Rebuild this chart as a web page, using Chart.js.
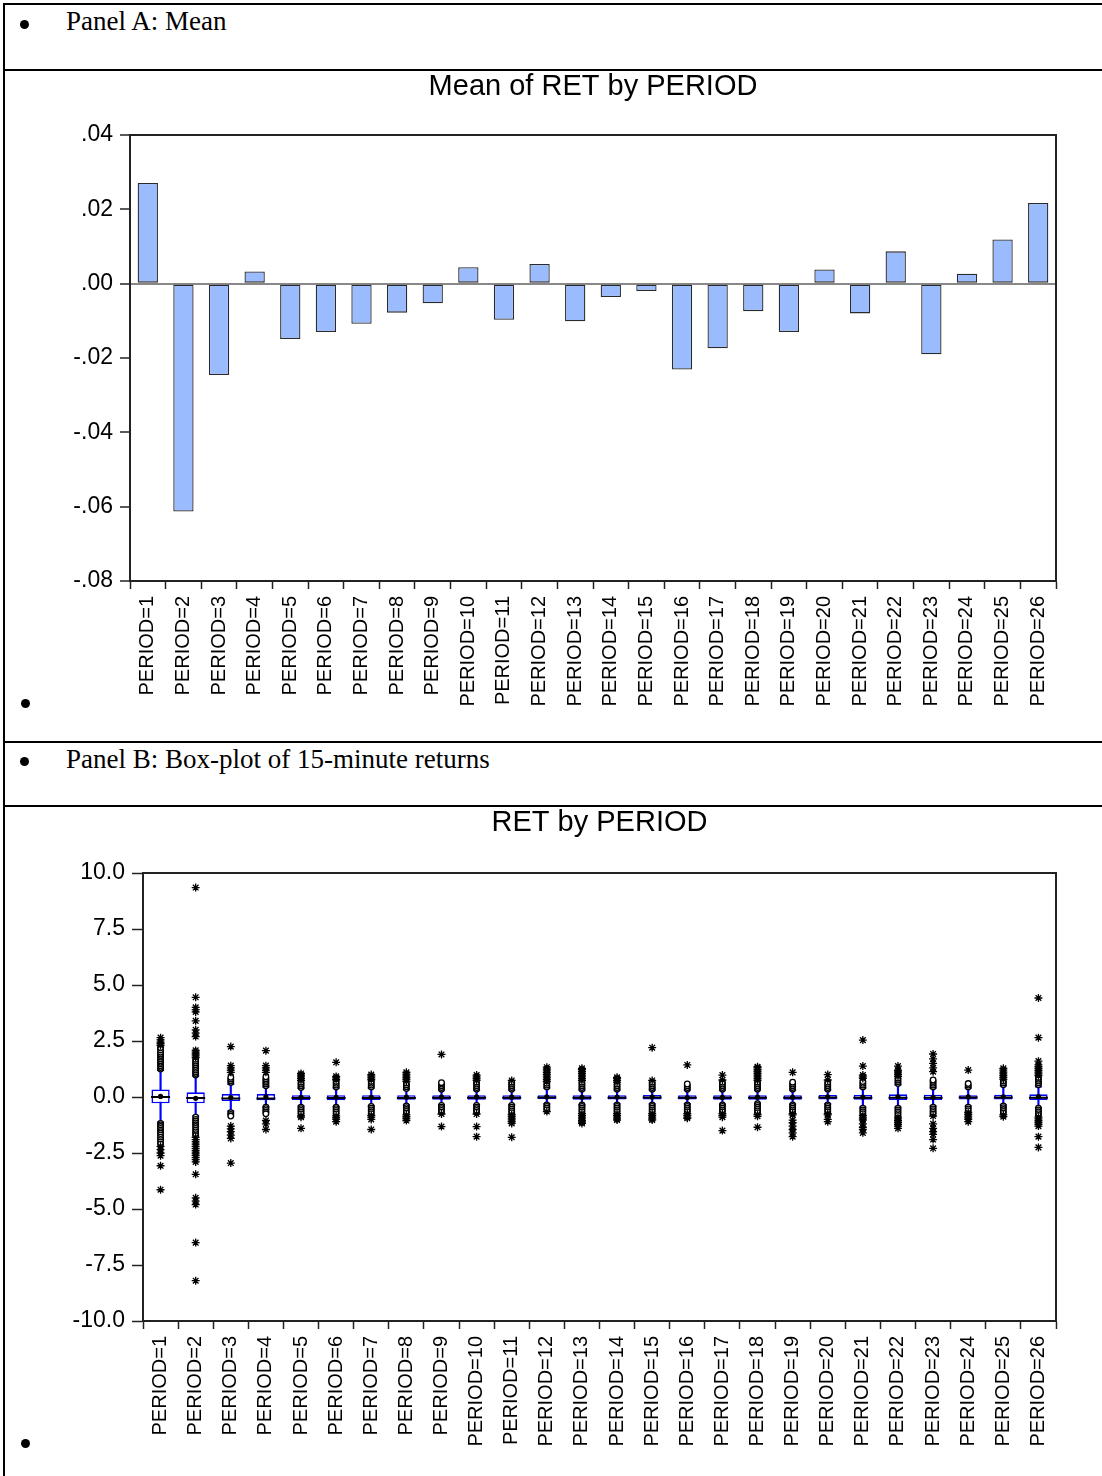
<!DOCTYPE html>
<html>
<head>
<meta charset="utf-8">
<title>RET by PERIOD</title>
<script src="https://cdn.jsdelivr.net/npm/chart.js@4.4.1/dist/chart.umd.min.js"></script>
<style>
  body { margin: 0; background: #fff; width: 1102px; height: 1476px; position: relative; overflow: hidden; }
  .rule { position: absolute; left: 3px; width: 1099px; height: 2px; background: #000; }
  .vrule { position: absolute; left: 3px; top: 3px; width: 2px; height: 1473px; background: #000; }
  .txt { position: absolute; font-family: "Liberation Serif", serif; font-size: 27px; line-height: 1; color: #000; white-space: nowrap; }
  .dot { position: absolute; width: 9px; height: 9px; border-radius: 50%; background: #000; }
  canvas { position: absolute; }
</style>
</head>
<body>
<div class="vrule"></div>
<div class="rule" style="top:3px"></div>
<div class="rule" style="top:69px"></div>
<div class="rule" style="top:741px"></div>
<div class="rule" style="top:805px"></div>

<div class="dot" style="left:20px; top:20px"></div>
<div class="txt" style="left:66px; top:8px">Panel A: Mean</div>
<div class="dot" style="left:21px; top:699px"></div>
<div class="dot" style="left:20px; top:757px"></div>
<div class="txt" style="left:66px; top:746px">Panel B: Box-plot of 15-minute returns</div>
<div class="dot" style="left:21px; top:1439px"></div>

<canvas id="meanChart" width="1092" height="670" style="left:6px; top:70px"></canvas>
<canvas id="boxChart" width="1092" height="670" style="left:6px; top:806px"></canvas>

<script>
const periods = [
  "PERIOD=1", "PERIOD=2", "PERIOD=3", "PERIOD=4", "PERIOD=5", "PERIOD=6", "PERIOD=7",
  "PERIOD=8", "PERIOD=9", "PERIOD=10", "PERIOD=11", "PERIOD=12", "PERIOD=13",
  "PERIOD=14", "PERIOD=15", "PERIOD=16", "PERIOD=17", "PERIOD=18", "PERIOD=19",
  "PERIOD=20", "PERIOD=21", "PERIOD=22", "PERIOD=23", "PERIOD=24", "PERIOD=25", "PERIOD=26"
];

// Panel A: mean of RET per period
const meanRet = [
  0.0271, -0.0613, -0.0246, 0.0033, -0.0149, -0.0130, -0.0108, -0.0078, -0.0053,
  0.0044, -0.0097, 0.0053, -0.0101, -0.0036, -0.0020, -0.0231, -0.0174, -0.0074,
  -0.0130, 0.0038, -0.0080, 0.0087, -0.0190, 0.0027, 0.0119, 0.0217
];
const meanTicks = [-0.08, 0.04, 0.02];   // min, max, step

// Panel B: box plot statistics per period
const q1 = [-0.28, -0.28, -0.18, -0.15, -0.13, -0.14, -0.13, -0.12, -0.12, -0.12, -0.12, -0.10, -0.12,
  -0.11, -0.11, -0.11, -0.12, -0.12, -0.12, -0.11, -0.12, -0.13, -0.13, -0.11, -0.11, -0.13];
const q3 = [0.34, 0.21, 0.13, 0.13, 0.08, 0.08, 0.08, 0.08, 0.08, 0.08, 0.08, 0.08, 0.08,
  0.08, 0.09, 0.08, 0.08, 0.08, 0.08, 0.09, 0.09, 0.12, 0.10, 0.08, 0.10, 0.12];
const median = [0.0, -0.05, -0.07, -0.07, -0.05, -0.05, -0.04, -0.04, -0.03, -0.03, -0.03, -0.02, -0.03,
  -0.03, -0.02, -0.03, -0.03, -0.03, -0.03, -0.02, -0.03, -0.03, -0.03, -0.02, -0.02, -0.03];
const whiskerLo = [-1.13, -0.85, -0.62, -0.43, -0.40, -0.43, -0.40, -0.36, -0.35, -0.35, -0.35, -0.30, -0.35,
  -0.30, -0.30, -0.30, -0.32, -0.28, -0.32, -0.30, -0.45, -0.46, -0.40, -0.40, -0.36, -0.48];
const whiskerHi = [1.19, 0.94, 0.57, 0.46, 0.39, 0.40, 0.40, 0.33, 0.31, 0.31, 0.31, 0.40, 0.31,
  0.31, 0.31, 0.31, 0.31, 0.31, 0.31, 0.31, 0.40, 0.55, 0.40, 0.40, 0.50, 0.46];
const boxTicks = [-10, 10, 2.5];

const outliers = [
  [1.25, 1.32, 1.4, 1.48, 1.55, 1.62, 1.7, 1.78, 1.85, 1.92, 2.0, 2.1, 2.2, 2.3, 2.38, 2.45, 2.55, 2.65,
   -1.18, -1.25, -1.32, -1.4, -1.48, -1.55, -1.62, -1.7, -1.8, -1.9, -2.0, -2.1, -2.2, -2.35, -2.5, -2.62, -3.07, -4.14],
  [0.98, 1.05, 1.12, 1.2, 1.28, 1.36, 1.44, 1.52, 1.6, 1.68, 1.76, 1.84, 1.92, 2.0, 2.08, 2.7, 2.85, 3.0, 3.4,
   3.8, 3.9, 4.0, 4.45, 9.35,
   -0.9, -1.0, -1.08, -1.16, -1.24, -1.32, -1.4, -1.48, -1.56, -1.64, -1.72, -1.8, -1.9, -2.0, -2.1, -2.2,
   -2.3, -2.4, -2.5, -2.6, -2.7, -2.8, -2.9, -3.45, -4.5, -4.65, -4.8, -6.5, -8.2],
  [0.65, 0.72, 0.8, 0.88, 1.1, 1.2, 1.3, 1.4, 2.25, -0.7, -0.78, -0.85, -1.3, -1.42, -1.55, -1.7, -1.85, -2.95],
  [0.5, 0.58, 0.66, 0.74, 0.82, 0.9, 1.1, 1.2, 1.3, 1.4, 2.07, -0.45, -0.52, -0.6, -0.68, -0.75, -1.05, -1.2, -1.45],
  [0.42, 0.5, 0.58, 0.66, 0.74, 0.82, 0.9, 0.98, 1.05, -0.45, -0.52, -0.6, -0.68, -0.76, -0.84, -0.9, -1.4],
  [0.45, 0.53, 0.61, 0.69, 0.77, 0.85, 0.92, 1.55, -0.45, -0.52, -0.6, -0.68, -0.76, -0.84, -0.92, -1.0, -1.1],
  [0.45, 0.53, 0.61, 0.69, 0.77, 0.85, 0.93, 1.0, -0.42, -0.5, -0.58, -0.66, -0.74, -0.82, -0.9, -1.0, -1.45],
  [0.38, 0.46, 0.54, 0.62, 0.7, 0.78, 0.86, 0.94, 1.02, 1.1, -0.4, -0.48, -0.56, -0.64, -0.72, -0.8, -0.88, -0.96, -1.05],
  [0.35, 0.42, 0.5, 0.58, 0.64, 1.9, -0.38, -0.45, -0.52, -0.6, -0.68, -0.76, -1.32],
  [0.35, 0.42, 0.5, 0.58, 0.66, 0.74, 0.82, 0.9, 0.98, -0.38, -0.45, -0.52, -0.6, -0.68, -0.76, -1.32, -1.77],
  [0.35, 0.42, 0.5, 0.58, 0.66, 0.74, -0.38, -0.46, -0.54, -0.62, -0.7, -0.78, -0.86, -0.94, -1.02, -1.1, -1.18, -1.8],
  [0.45, 0.53, 0.61, 0.69, 0.77, 0.85, 0.93, 1.01, 1.09, 1.17, 1.25, 1.33, -0.35, -0.42, -0.5, -0.58, -0.65],
  [0.35, 0.42, 0.5, 0.58, 0.66, 0.74, 0.82, 0.9, 0.98, 1.06, 1.14, 1.22, 1.28,
   -0.35, -0.42, -0.5, -0.58, -0.66, -0.74, -0.82, -0.9, -0.98, -1.06, -1.12, -1.18],
  [0.35, 0.42, 0.5, 0.58, 0.66, 0.74, 0.82, 0.88, -0.35, -0.42, -0.5, -0.58, -0.66, -0.74, -0.82, -0.9, -0.98, -1.03],
  [0.35, 0.42, 0.5, 0.58, 0.66, 0.74, 2.2, -0.35, -0.42, -0.5, -0.58, -0.66, -0.74, -0.82, -0.9, -0.98, -1.03],
  [0.35, 0.42, 0.5, 0.58, 1.43, -0.35, -0.42, -0.5, -0.58, -0.66, -0.74, -0.82, -0.9, -0.95],
  [0.35, 0.42, 0.5, 0.58, 0.66, 0.76, 0.98, -0.35, -0.42, -0.5, -0.58, -0.66, -0.74, -0.82, -0.9, -1.5],
  [0.35, 0.42, 0.5, 0.58, 0.66, 0.74, 0.82, 0.9, 0.98, 1.06, 1.14, 1.22, 1.3, 1.35,
   -0.3, -0.38, -0.46, -0.54, -0.62, -0.7, -0.78, -0.86, -1.35],
  [0.35, 0.42, 0.5, 0.58, 0.66, 1.1, -0.35, -0.42, -0.5, -0.58, -0.66, -0.74, -0.8, -1.03, -1.15, -1.3, -1.45, -1.6, -1.77],
  [0.35, 0.42, 0.5, 0.58, 0.66, 0.76, 1.0, -0.35, -0.42, -0.5, -0.58, -0.66, -0.74, -0.8, -1.0, -1.1],
  [0.45, 0.53, 0.61, 0.69, 0.83, 0.9, 0.98, 1.38, 2.54,
   -0.5, -0.58, -0.66, -0.74, -0.82, -0.9, -0.98, -1.03, -1.2, -1.35, -1.45, -1.6],
  [0.6, 0.68, 0.76, 0.84, 0.92, 1.0, 1.08, 1.16, 1.2, 1.38,
   -0.5, -0.58, -0.66, -0.74, -0.82, -0.9, -0.98, -1.06, -1.14, -1.22, -1.3, -1.4],
  [0.45, 0.53, 0.61, 0.69, 0.76, 1.13, 1.3, 1.5, 1.7, 1.92,
   -0.45, -0.53, -0.61, -0.69, -0.77, -0.85, -1.2, -1.4, -1.55, -1.67, -1.9, -2.29],
  [0.45, 0.53, 0.6, 1.2, -0.45, -0.53, -0.61, -0.69, -0.77, -0.85, -0.93, -1.0, -1.1],
  [0.55, 0.63, 0.71, 0.79, 0.87, 0.95, 1.03, 1.11, 1.2, 1.28, -0.4, -0.48, -0.56, -0.64, -0.72, -0.8, -0.88],
  [0.55, 0.63, 0.71, 0.79, 0.87, 0.95, 1.03, 1.11, 1.19, 1.27, 1.35, 1.43, 1.6, 2.65, 4.42,
   -0.5, -0.58, -0.66, -0.74, -0.82, -0.9, -0.98, -1.06, -1.14, -1.22, -1.3, -1.77, -2.25]
];

const SANS = "Liberation Sans";
const AXIS = "#222";

// outline of the plot area
const framePlugin = {
  id: "frame",
  beforeDatasetsDraw(chart) {
    const { ctx, chartArea: a } = chart;
    ctx.save();
    ctx.strokeStyle = AXIS;
    ctx.lineWidth = 2;
    ctx.strokeRect(a.left, a.top, a.right - a.left, a.bottom - a.top);
    ctx.restore();
  }
};

function meanLabel(v) {
  if (Math.abs(v) < 1e-9) return ".00";
  const s = Math.abs(v).toFixed(2).replace(/^0/, "");
  return (v < 0 ? "-" : "") + s;
}

function xAxis(height) {
  return {
    type: "category",
    offset: true,
    afterFit: (s) => { s.height = height; },
    grid: { offset: true, drawOnChartArea: false, drawTicks: true, tickLength: 8, tickColor: AXIS, tickWidth: 1.5 },
    border: { display: true, color: AXIS, width: 2 },
    ticks: {
      autoSkip: false, minRotation: 90, maxRotation: 90, padding: 7,
      color: "#000", font: { family: SANS, size: 20 }
    }
  };
}

function titleOpts(text, bottom) {
  return {
    display: true, text, fullSize: false, color: "#000",
    font: { family: SANS, size: 29, weight: "normal" },
    padding: { top: 0, bottom }
  };
}

// ---- Panel A ----
new Chart(document.getElementById("meanChart"), {
  type: "bar",
  data: {
    labels: periods,
    datasets: [{
      data: meanRet,
      backgroundColor: "#9abcff",
      borderColor: "#2a2a2a",
      borderWidth: 1.3,
      borderSkipped: false,
      barPercentage: 0.57,
      categoryPercentage: 1.0
    }]
  },
  options: {
    responsive: false,
    animation: false,
    layout: { padding: { left: 0, right: 42, top: 0, bottom: 0 } },
    plugins: {
      legend: { display: false },
      tooltip: { enabled: false },
      title: titleOpts("Mean of RET by PERIOD", 30.2)
    },
    scales: {
      x: xAxis(159),
      y: {
        min: meanTicks[0], max: meanTicks[1],
        afterFit: (s) => { s.width = 124; },
        grid: {
          drawOnChartArea: true, drawTicks: true, tickLength: 10, tickColor: AXIS, tickWidth: 1.5,
          color: (c) => (c.tick && Math.abs(c.tick.value) < 1e-9 ? "#888" : "rgba(0,0,0,0)"),
          lineWidth: 2
        },
        border: { display: true, color: AXIS, width: 2 },
        ticks: {
          stepSize: meanTicks[2], padding: 7, color: "#000",
          font: { family: SANS, size: 23 },
          callback: (v) => meanLabel(v)
        }
      }
    }
  },
  plugins: [framePlugin]
});

// ---- Panel B ----
const asPoints = (arr) => arr.map((v, i) => ({ x: periods[i], y: v }));
const nearPts = [];
const farPts = [];
outliers.forEach((list, i) => {
  const iqr = q3[i] - q1[i];
  list.forEach((v) => {
    const far = v > q3[i] + 3 * iqr || v < q1[i] - 3 * iqr;
    (far ? farPts : nearPts).push({ x: periods[i], y: v });
  });
});

new Chart(document.getElementById("boxChart"), {
  type: "bar",
  data: {
    labels: periods,
    datasets: [
      { // whiskers
        data: whiskerLo.map((v, i) => [v, whiskerHi[i]]),
        backgroundColor: "#0000ff", borderWidth: 0,
        barThickness: 1.5, grouped: false, order: 6
      },
      { // boxes
        data: q1.map((v, i) => [v, q3[i]]),
        backgroundColor: "#ffffff", borderColor: "#0000ff", borderWidth: 1.6,
        borderSkipped: false, barPercentage: 0.52, categoryPercentage: 1.0,
        grouped: false, order: 5
      },
      { // whisker caps
        type: "line", showLine: false,
        data: [...asPoints(whiskerLo), ...asPoints(whiskerHi)],
        pointStyle: "line", pointRadius: 3.5, borderColor: "#0000ff", pointBorderWidth: 1.5, order: 4
      },
      { // medians
        type: "line", showLine: false, data: asPoints(median),
        pointStyle: "line", pointRadius: 9.5, borderColor: "#000", pointBorderWidth: 2, order: 3
      },
      { // means
        type: "line", showLine: false, data: asPoints(meanRet),
        pointStyle: "circle", pointRadius: 2.6, backgroundColor: "#000", borderColor: "#000",
        pointBorderWidth: 0, order: 2
      },
      { // near outliers
        type: "line", showLine: false, data: nearPts,
        pointStyle: "circle", pointRadius: 2.8, backgroundColor: "#fff", borderColor: "#000",
        pointBorderWidth: 1.3, order: 1
      },
      { // far outliers
        type: "line", showLine: false, data: farPts,
        pointStyle: "star", pointRadius: 4, borderColor: "#000", pointBorderWidth: 1.3, order: 0
      }
    ]
  },
  options: {
    responsive: false,
    animation: false,
    layout: { padding: { left: 0, right: 42, top: 0, bottom: 0 } },
    plugins: {
      legend: { display: false },
      tooltip: { enabled: false },
      title: titleOpts("RET by PERIOD", 32.2)
    },
    scales: {
      x: xAxis(155),
      y: {
        min: boxTicks[0], max: boxTicks[1],
        afterFit: (s) => { s.width = 137; },
        grid: { drawOnChartArea: false, drawTicks: true, tickLength: 11, tickColor: AXIS, tickWidth: 1.5 },
        border: { display: true, color: AXIS, width: 2 },
        ticks: {
          stepSize: boxTicks[2], padding: 7, color: "#000",
          font: { family: SANS, size: 23 },
          callback: (v) => Number(v).toFixed(1)
        }
      }
    }
  },
  plugins: [framePlugin]
});
</script>
</body>
</html>
